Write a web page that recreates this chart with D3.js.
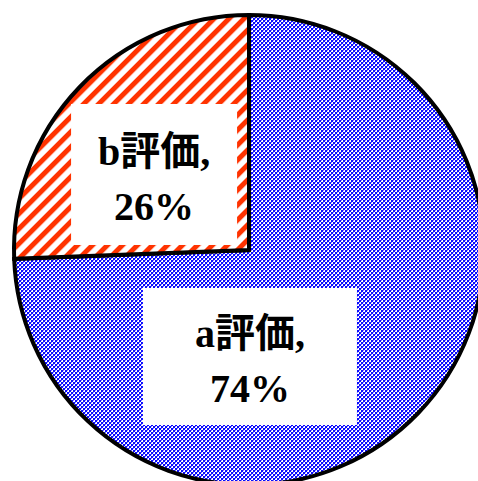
<!doctype html>
<html>
<head>
<meta charset="utf-8">
<script src="https://cdnjs.cloudflare.com/ajax/libs/d3/7.8.5/d3.min.js"></script>
<style>
  html, body { margin: 0; padding: 0; background: #fff; }
  svg { display: block; }
</style>
</head>
<body>
<svg id="pie" width="478" height="481"></svg>
<script>
// data
var categories = ["a評価", "b評価"];
var shares = [74.4, 25.6];

// label boxes (layout only)
var labelAt = [{ angle: 179.5, r: 106.5, w: 214, h: 137 },
               { angle: -51.5, r: 121.3, w: 166, h: 141 }];

var svg = d3.select("#pie"),
    cx = 249, cy = 250, radius = 235;

var defs = svg.append("defs");

// blue checker fill for a
var pa = defs.append("pattern")
    .attr("id", "checker")
    .attr("patternUnits", "userSpaceOnUse")
    .attr("width", 4).attr("height", 4);
pa.append("rect").attr("width", 4).attr("height", 4).attr("fill", "#ffffff");
pa.append("rect").attr("x", 0).attr("y", 0).attr("width", 2).attr("height", 2).attr("fill", "#0a0aff");
pa.append("rect").attr("x", 2).attr("y", 2).attr("width", 2).attr("height", 2).attr("fill", "#0a0aff");
pa.append("rect").attr("x", 2).attr("y", 0).attr("width", 1).attr("height", 1).attr("fill", "#8080ff");
pa.append("rect").attr("x", 0).attr("y", 2).attr("width", 1).attr("height", 1).attr("fill", "#8080ff");

// red diagonal stripes for b
var pb = defs.append("pattern")
    .attr("id", "stripes")
    .attr("patternUnits", "userSpaceOnUse")
    .attr("width", 10.6).attr("height", 10.6)
    .attr("patternTransform", "rotate(45)");
pb.append("rect").attr("width", 10.6).attr("height", 10.6).attr("fill", "#ffffff");
pb.append("rect").attr("width", 5).attr("height", 10.6).attr("fill", "#ff3300");

var fills = ["url(#checker)", "url(#stripes)"];

// clockwise from 12 o'clock, a first so b ends up top-left
var pie = d3.pie().sort(null)
    .value(function(d) { return d; });

var arc = d3.arc().innerRadius(0).outerRadius(radius);

var g = svg.append("g").attr("transform", "translate(" + cx + "," + cy + ")");

var slices = pie(shares);

g.selectAll("path")
    .data(slices)
    .enter().append("path")
    .attr("d", arc)
    .attr("fill", function(d, i) { return fills[i]; })
    .attr("stroke", "#000")
    .attr("stroke-width", 4)
    .attr("stroke-linejoin", "miter");

// labels
var total = d3.sum(shares);
var lbl = g.selectAll("g.lbl")
    .data(slices)
    .enter().append("g")
    .attr("class", "lbl")
    .attr("transform", function(d, i) {
        var p = labelAt[i];
        var a = p.angle * Math.PI / 180;
        var c = d3.arc().innerRadius(p.r).outerRadius(p.r).startAngle(a).endAngle(a).centroid();
        return "translate(" + c[0] + "," + c[1] + ")";
    });

lbl.append("rect")
    .attr("x", function(d, i) { return -labelAt[i].w / 2; })
    .attr("y", function(d, i) { return -labelAt[i].h / 2; })
    .attr("width", function(d, i) { return labelAt[i].w; })
    .attr("height", function(d, i) { return labelAt[i].h; })
    .attr("fill", "#fff");

var txt = lbl.append("text")
    .attr("text-anchor", "middle")
    .attr("font-family", "'Liberation Serif', 'Noto Sans CJK JP', serif")
    .attr("font-weight", "bold")
    .attr("font-size", "40px")
    .attr("fill", "#000");

txt.append("tspan")
    .attr("x", 0).attr("y", -9)
    .text(function(d, i) { return categories[i] + ","; });

txt.append("tspan")
    .attr("x", 0).attr("y", 46)
    .text(function(d) { return Math.round(d.value / total * 100) + "%"; });
</script>
</body>
</html>
